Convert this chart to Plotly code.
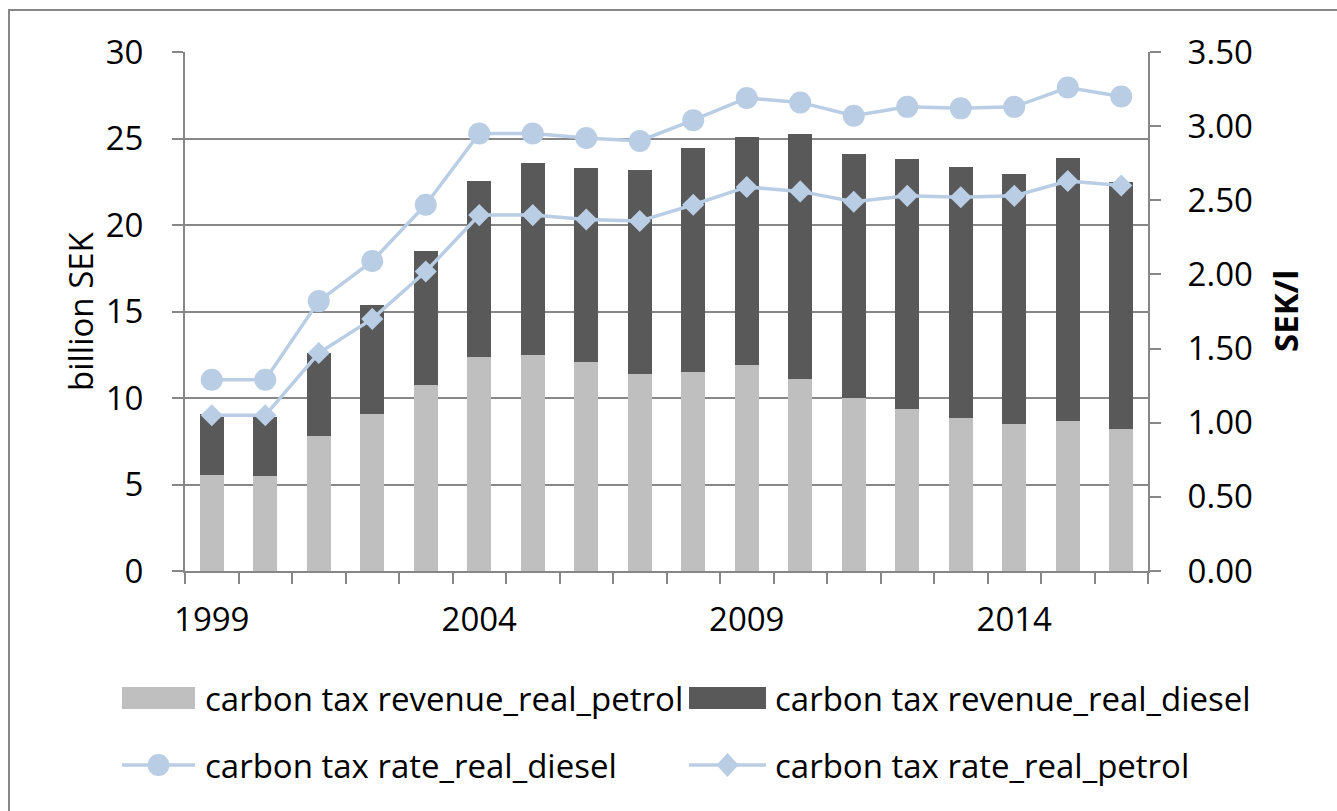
import plotly.graph_objects as go

# Swedish carbon tax on road fuels, 1999-2016 (real terms)
years = list(range(1999, 2017))
revenue_petrol = [5.55, 5.50, 7.82, 9.07, 10.75, 12.39, 12.49, 12.10, 11.39,
                  11.52, 11.90, 11.08, 9.98, 9.36, 8.86, 8.51, 8.67, 8.21]
revenue_diesel = [3.52, 3.40, 4.76, 6.29, 7.75, 10.17, 11.09, 11.17, 11.81,
                  12.93, 13.17, 14.16, 14.11, 14.48, 14.49, 14.46, 15.22, 14.26]
rate_diesel = [1.29, 1.29, 1.82, 2.09, 2.47, 2.95, 2.95, 2.92, 2.90,
               3.04, 3.19, 3.16, 3.07, 3.13, 3.12, 3.13, 3.26, 3.20]
rate_petrol = [1.05, 1.05, 1.47, 1.70, 2.02, 2.40, 2.40, 2.37, 2.36,
               2.47, 2.59, 2.56, 2.49, 2.53, 2.52, 2.53, 2.63, 2.60]

label_years = [1999, 2004, 2009, 2014]
left_ticks = [0, 5, 10, 15, 20, 25, 30]
right_ticks = [0, 0.5, 1.0, 1.5, 2.0, 2.5, 3.0, 3.5]

names = {
    "rev_petrol": "carbon tax revenue_real_petrol",
    "rev_diesel": "carbon tax revenue_real_diesel",
    "rate_diesel": "carbon tax rate_real_diesel",
    "rate_petrol": "carbon tax rate_real_petrol",
}

C_PETROL = "#BFBFBF"
C_DIESEL = "#595959"
C_LINE = "#B9CDE5"
C_AXIS = "#878787"
FONT = "Open Sans"
FS = 33

W, H = 1337, 811
L, R, T, B = 185, 1148, 52, 571   # plot area in pixels


def px(x):
    return (x - L) / (R - L)


def py(y):
    return (B - y) / (B - T)


fig = go.Figure()
fig.add_trace(go.Bar(x=years, y=revenue_petrol, name=names["rev_petrol"],
                     marker=dict(color=C_PETROL, line=dict(width=0)), width=0.45))
fig.add_trace(go.Bar(x=years, y=revenue_diesel, name=names["rev_diesel"],
                     marker=dict(color=C_DIESEL, line=dict(width=0)), width=0.45))
fig.add_trace(go.Scatter(x=years, y=rate_diesel, name=names["rate_diesel"], yaxis="y2",
                         mode="lines+markers", line=dict(color=C_LINE, width=3.5),
                         marker=dict(symbol="circle", size=22, color=C_LINE)))
fig.add_trace(go.Scatter(x=years, y=rate_petrol, name=names["rate_petrol"], yaxis="y2",
                         mode="lines+markers", line=dict(color=C_LINE, width=3.5),
                         marker=dict(symbol="diamond", size=17, color=C_LINE)))

fig.update_layout(
    width=W, height=H,
    margin=dict(l=L, r=W - R, t=T, b=H - B, pad=0),
    paper_bgcolor="white", plot_bgcolor="white",
    barmode="stack", showlegend=False,
    font=dict(family=FONT, size=FS, color="black"),
    xaxis=dict(range=[1998.5, 2016.5], tickvals=label_years,
               ticktext=[str(y) for y in label_years], ticks="",
               ticklabelstandoff=18,
               showline=True, linecolor=C_AXIS, linewidth=2, showgrid=False, zeroline=False,
               minor=dict(tickvals=[1998.5 + i for i in range(len(years) + 1)],
                          ticks="outside", ticklen=11, tickwidth=2, tickcolor=C_AXIS,
                          showgrid=False)),
    yaxis=dict(range=[0, 30], tickvals=left_ticks, ticks="outside", ticklen=11,
               tickwidth=2, tickcolor=C_AXIS, ticklabelstandoff=22,
               showline=True, linecolor=C_AXIS, linewidth=2,
               showgrid=True, gridcolor=C_AXIS, gridwidth=2, zeroline=False),
    yaxis2=dict(range=[0, 3.5], tickvals=right_ticks, tickformat=".2f",
                overlaying="y", side="right", ticks="outside", ticklen=11,
                tickwidth=2, tickcolor=C_AXIS, ticklabelstandoff=20,
                showline=True, linecolor=C_AXIS, linewidth=2,
                showgrid=False, zeroline=False),
)

# outer chart frame
fig.add_shape(type="rect", xref="paper", yref="paper",
              x0=px(9), x1=px(W + 20), y0=py(H + 20), y1=py(10),
              line=dict(color=C_AXIS, width=2), fillcolor="rgba(0,0,0,0)", layer="below")

# axis titles
fig.add_annotation(text="billion SEK", xref="paper", yref="paper", x=px(80), y=py(311),
                   textangle=-90, showarrow=False, xanchor="center", yanchor="middle",
                   font=dict(family=FONT, size=FS))
fig.add_annotation(text="<b>SEK/l</b>", xref="paper", yref="paper", x=px(1285), y=py(311),
                   textangle=-90, showarrow=False, xanchor="center", yanchor="middle",
                   font=dict(family=FONT, size=FS))

# legend
row1, row2 = 698, 765
col1, col2 = (122, 195), (689, 766)
text_x = (203, 773)

for (x0, x1), color, key, tx in [(col1, C_PETROL, "rev_petrol", text_x[0]),
                                 (col2, C_DIESEL, "rev_diesel", text_x[1])]:
    fig.add_shape(type="rect", xref="paper", yref="paper",
                  x0=px(x0), x1=px(x1), y0=py(row1 + 11), y1=py(row1 - 11),
                  line=dict(width=0), fillcolor=color)
    fig.add_annotation(text=names[key], xref="paper", yref="paper", x=px(tx), y=py(row1),
                       showarrow=False, xanchor="left", yanchor="middle",
                       font=dict(family=FONT, size=FS))

for (x0, x1), sym, key, tx in [(col1, "circle", "rate_diesel", text_x[0]),
                               (col2, "diamond", "rate_petrol", text_x[1])]:
    fig.add_shape(type="line", xref="paper", yref="paper",
                  x0=px(x0), x1=px(x1), y0=py(row2), y1=py(row2),
                  line=dict(color=C_LINE, width=3.5))
    cx = (x0 + x1) / 2
    if sym == "circle":
        fig.add_shape(type="circle", xref="paper", yref="paper",
                      x0=px(cx - 11), x1=px(cx + 11), y0=py(row2 + 11), y1=py(row2 - 11),
                      line=dict(width=0), fillcolor=C_LINE)
    else:
        path = "M {a},{b} L {c},{d} L {a},{e} L {f},{d} Z".format(
            a=px(cx), b=py(row2 - 12), c=px(cx + 11), d=py(row2),
            e=py(row2 + 12), f=px(cx - 11))
        fig.add_shape(type="path", xref="paper", yref="paper", path=path,
                      line=dict(width=0), fillcolor=C_LINE)
    fig.add_annotation(text=names[key], xref="paper", yref="paper", x=px(tx), y=py(row2),
                       showarrow=False, xanchor="left", yanchor="middle",
                       font=dict(family=FONT, size=FS))

fig.write_html("out.html")
